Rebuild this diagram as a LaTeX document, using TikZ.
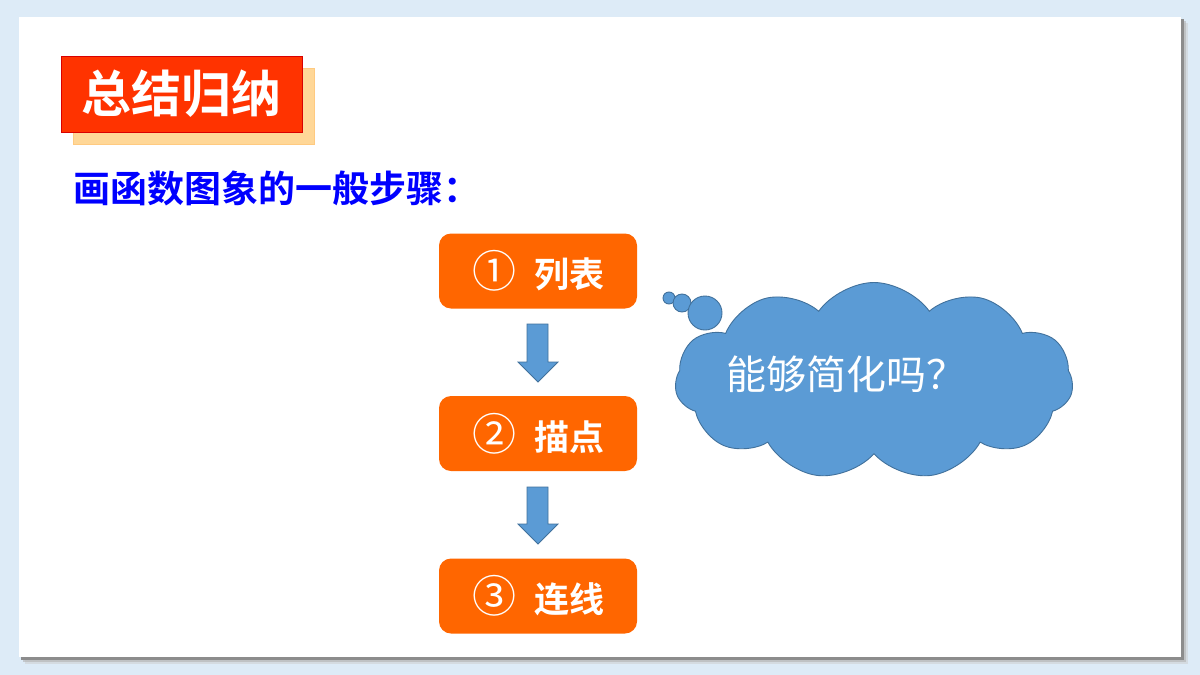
\documentclass[tikz,border=0pt]{standalone}
\usepackage{fontspec}
\newfontfamily\cjk{Noto Sans CJK SC}[BoldFont={Noto Sans CJK SC Bold}]
\usetikzlibrary{shapes.symbols}
\definecolor{bgblue}{HTML}{DDEBF7}
\definecolor{titlered}{HTML}{FF3300}
\definecolor{titleshadow}{HTML}{FFD797}
\definecolor{stepor}{HTML}{FF6600}
\definecolor{cloudfill}{HTML}{5B9BD5}
\definecolor{cloudline}{HTML}{41719C}
\definecolor{subblue}{HTML}{0000FF}
\newcommand{\circnum}[1]{{\fontsize{44}{44}\selectfont\mdseries #1}}
\tikzset{
  stepbox/.style={fill=stepor, rounded corners=12pt, minimum width=198pt, minimum height=75pt, text=white, font=\cjk\bfseries\fontsize{35}{40}\selectfont, inner sep=0pt},
  blockarrow/.style={fill=cloudfill, draw=cloudline, line width=0.8pt},
  puff/.style={fill=cloudfill, draw=cloudline, line width=0.9pt}
}
\begin{document}
\begin{tikzpicture}[x=1pt,y=-1pt]
\useasboundingbox (0,0) rectangle (1200,675);
\fill[bgblue] (0,0) rectangle (1200,675);
% panel shadow
\fill[black!20, opacity=0.5] (25,23) rectangle (1188,664);
\fill[black!30, opacity=0.6] (23,21) rectangle (1186,662);
\fill[black!45] (21,19) rectangle (1184,660);
\fill[white] (19,17) rectangle (1181,657);
% title
\fill[titleshadow, draw=titleshadow!85!orange] (73,68) rectangle (314,144);
\node[fill=titlered, draw=red!85!black, line width=0.6pt, minimum width=241pt, minimum height=76pt, inner sep=0pt, text=white, font=\cjk\bfseries\fontsize{50}{54}\selectfont] (title) at (181.5,94) {总结归纳};
% subtitle
\node[anchor=west, inner sep=0pt, text=subblue, font=\cjk\bfseries\fontsize{37}{42}\selectfont] (sub) at (73,188) {画函数图象的一般步骤：};
% steps
\node[stepbox] (s1) at (538,271) {\circnum{①}\hspace{18pt}列表};
\node[stepbox] (s2) at (538,433.5) {\circnum{②}\hspace{18pt}描点};
\node[stepbox] (s3) at (538,596) {\circnum{③}\hspace{18pt}连线};
% block arrows
\draw[blockarrow] (527,324) -- (548,324) -- (548,362) -- (558,362) -- (538,382) -- (518,362) -- (527,362) -- cycle;
\draw[blockarrow] (527,487) -- (548,487) -- (548,524) -- (558,524) -- (538,544) -- (518,524) -- (527,524) -- cycle;
% thought cloud
\node[cloud, cloud puffs=11, cloud puff arc=110, aspect=2.1, puff, minimum width=398pt, minimum height=197pt, inner sep=0pt] (cloud) at (874,381) {};
\node[text=white, font=\cjk\fontsize{40}{44}\selectfont, inner sep=0pt] (q) at (846,374) {能够简化吗？};
\draw[puff] (669,298) circle (6);
\draw[puff] (682,303) circle (9);
\draw[puff] (705,313) circle (17);
\end{tikzpicture}
\end{document}
